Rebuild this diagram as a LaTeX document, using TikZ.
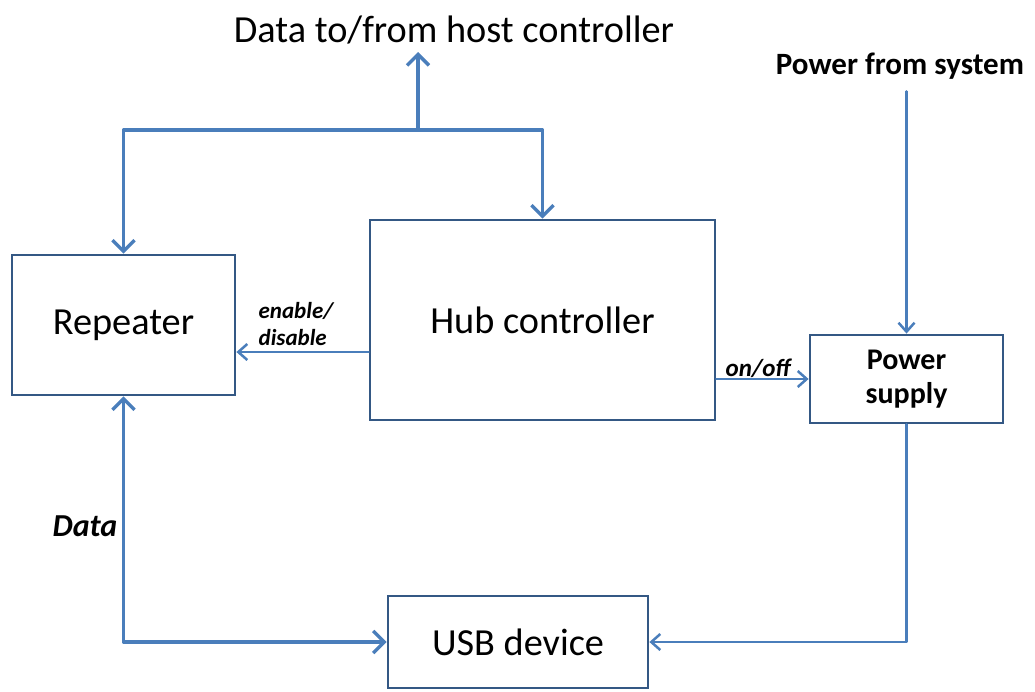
\documentclass[tikz,border=0pt]{standalone}
\usepackage{fontspec}
\setmainfont{Carlito}
\usetikzlibrary{arrows.meta,calc}
\definecolor{lineblue}{RGB}{74,126,187}
\definecolor{boxblue}{RGB}{52,88,132}
\tikzset{
  blk/.style={draw=boxblue,line width=2.8pt,fill=white,inner sep=0pt,align=center},
  bigtxt/.style={font=\fontsize{38.3}{44}\selectfont},
  thickline/.style={draw=lineblue,line width=3.8pt,line cap=round,line join=round,
     arrows={-Straight Barb[length=11pt,width=22pt,line width=3.4pt]}},
  thinline/.style={draw=lineblue,line width=2.5pt,line cap=round,line join=round,
     arrows={-Straight Barb[length=9pt,width=16pt,line width=2.5pt]}},
  lbl/.style={font=\fontsize{23}{27}\selectfont\bfseries\itshape,inner sep=0pt,align=left}
}
\begin{document}
\begin{tikzpicture}[x=1pt,y=-1pt]
\useasboundingbox (0,0) rectangle (1035,691);
\node[blk,bigtxt,minimum width=223pt,minimum height=140pt] (rep) at (123.5,325) {Repeater};
\node[blk,bigtxt,minimum width=345pt,minimum height=200pt] (hub) at (542.5,320) {Hub controller};
\node[blk,font=\fontsize{30}{34}\selectfont\bfseries,minimum width=193pt,minimum height=88pt] (ps) at (906.5,379) {Power\\supply};
\node[blk,bigtxt,minimum width=260pt,minimum height=92pt] (usb) at (518,642) {USB device};
\node[bigtxt,inner sep=0pt] (host) at (454,30) {Data to/from host controller};
\node[font=\fontsize{31}{36}\selectfont\bfseries,inner sep=0pt] (psys) at (900,66) {Power from system};
\node[lbl] (en) at (296,324) {enable/\\disable};
\node[lbl,font=\fontsize{25}{29}\selectfont\bfseries\itshape] (onoff) at (758,368) {on/off};
\node[lbl,font=\fontsize{32}{36}\selectfont\bfseries\itshape] (dlab) at (85,526) {Data};
\coordinate (j) at (418,130);
% top distribution
\draw[thickline] (j) -- (j |- 0,52);
\draw[thickline] (j) -| (rep.north);
\draw[thickline] (j) -| (hub.north);
% enable/disable
\draw[thinline] ($(hub.west)+(0,32)$) -- ($(rep.east)+(0,27)$);
% on/off
\draw[thinline] (hub.east |- ps.west) -- (ps.west);
% power from system
\draw[thinline,shorten <=12pt] (psys.south -| ps.north) -- (ps.north);
% power to usb
\draw[thinline] (ps.south) |- (usb.east);
% data repeater <-> usb
\draw[thickline,arrows={Straight Barb[length=11pt,width=22pt,line width=3.4pt]-Straight Barb[length=11pt,width=22pt,line width=3.4pt]}] (rep.south) |- (usb.west);
\end{tikzpicture}
\end{document}
